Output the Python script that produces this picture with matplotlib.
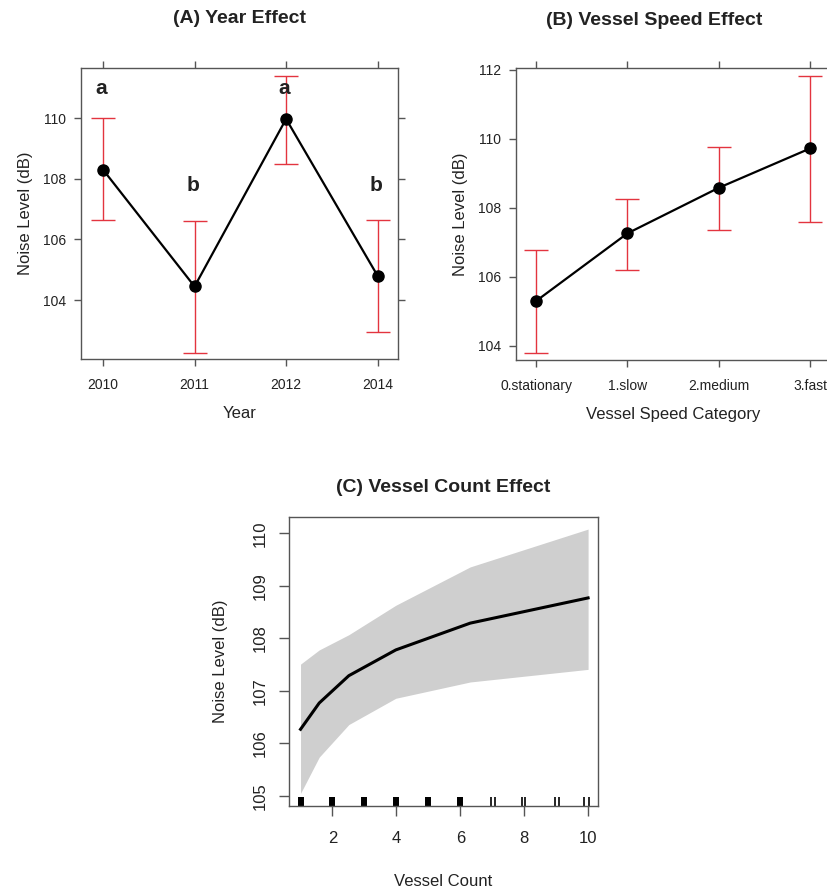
#!/usr/bin/env python3

import numpy as np
import matplotlib
matplotlib.use("Agg")
import matplotlib.pyplot as plt

plt.rcParams["font.family"] = ["Liberation Sans", "DejaVu Sans"]

# (A) year effect
years = ["2010", "2011", "2012", "2014"]
year_fit = [108.30, 104.45, 109.97, 104.80]
year_lower = [106.63, 102.27, 108.50, 102.94]
year_upper = [110.00, 106.60, 111.40, 106.63]
year_letters = ["a", "b", "a", "b"]
letter_y = [110.99, 107.79, 110.99, 107.79]

# (B) vessel speed effect
speeds = ["0.stationary", "1.slow", "2.medium", "3.fast"]
speed_fit = [105.30, 107.26, 108.58, 109.72]
speed_lower = [103.80, 106.19, 107.35, 107.59]
speed_upper = [106.77, 108.25, 109.77, 111.82]

# (C) vessel count effect
count_x = [1.0, 1.585, 2.512, 3.981, 6.310, 10.0]
count_fit = [106.27, 106.77, 107.29, 107.78, 108.29, 108.77]
count_lower = [105.05, 105.74, 106.36, 106.86, 107.17, 107.41]
count_upper = [107.51, 107.78, 108.07, 108.63, 109.36, 110.08]
rug_dense = [1, 2, 3, 4, 5, 6]
rug_pairs = [6.96, 7.09, 7.92, 8.04, 8.96, 9.09, 9.88, 10.03]

RED = "#e3343f"
SPINE = "#555555"
TXT = "#222222"


def lattice_axes(ax, labels, ylim, yticks, xlim):
    ax.set_xlim(*xlim)
    ax.set_ylim(*ylim)
    ax.set_xticks(range(len(labels)))
    ax.set_xticklabels(labels)
    ax.set_yticks(yticks)
    ax.tick_params(axis="both", direction="out", length=5, width=1,
                   color=SPINE, labelsize=10, labelcolor=TXT, pad=6,
                   top=True, right=True, labeltop=False, labelright=False)
    ax.tick_params(axis="x", pad=9)
    for s in ax.spines.values():
        s.set_color(SPINE)
        s.set_linewidth(1)


def effect_panel(ax, fit, lower, upper):
    x = np.arange(len(fit))
    fit = np.array(fit)
    err = [fit - np.array(lower), np.array(upper) - fit]
    ax.errorbar(x, fit, yerr=err, fmt="none", ecolor=RED, elinewidth=1,
                capsize=8.6, capthick=1, zorder=2)
    ax.plot(x, fit, color="black", lw=1.6, marker="o", ms=8, zorder=3)


def main():
    fig = plt.figure(figsize=(8.27, 8.90), dpi=100)

    # panel A
    ax = fig.add_axes([0.098, 0.5966, 0.383, 0.327])
    effect_panel(ax, year_fit, year_lower, year_upper)
    for i, (lab, ly) in enumerate(zip(year_letters, letter_y)):
        ax.text(i - 0.02, ly, lab, ha="center", va="center", fontsize=15,
                fontweight="bold", color=TXT)
    lattice_axes(ax, years, (102.06, 111.65), [104, 106, 108, 110], (-0.24, 3.22))
    ax.set_xlabel("Year", fontsize=12, color=TXT, labelpad=10)
    ax.set_ylabel("Noise Level (dB)", fontsize=12, color=TXT, labelpad=7)
    fig.text(0.29, 0.979, "(A) Year Effect", ha="center", va="center",
             fontsize=14, fontweight="bold", color=TXT)

    # panel B, clipped at the right edge like the original
    ax = fig.add_axes([0.624, 0.5955, 0.3797, 0.328])
    effect_panel(ax, speed_fit, speed_lower, speed_upper)
    lattice_axes(ax, speeds, (103.59, 112.05), [104, 106, 108, 110, 112], (-0.22, 3.22))
    ax.set_xlabel("Vessel Speed Category", fontsize=12, color=TXT, labelpad=10)
    ax.set_ylabel("Noise Level (dB)", fontsize=12, color=TXT, labelpad=7)
    fig.text(0.791, 0.977, "(B) Vessel Speed Effect", ha="center", va="center",
             fontsize=14, fontweight="bold", color=TXT)

    # panel C
    ax = fig.add_axes([0.3495, 0.0944, 0.3736, 0.3247])
    ax.fill_between(count_x, count_lower, count_upper, color="#cfcfcf", lw=0)
    ax.plot(count_x, count_fit, color="black", lw=2.2)
    ax.vlines(rug_dense, 0, 0.03, transform=ax.get_xaxis_transform(),
              color="black", lw=4.3)
    ax.vlines(rug_pairs, 0, 0.03, transform=ax.get_xaxis_transform(),
              color="black", lw=1.2)
    ax.set_xlim(0.64, 10.31)
    ax.set_ylim(104.81, 110.31)
    ax.set_xticks([2, 4, 6, 8, 10])
    ax.set_yticks([105, 106, 107, 108, 109, 110])
    ax.tick_params(axis="both", direction="out", length=7, width=1,
                   color=SPINE, labelsize=12, labelcolor=TXT, pad=8)
    ax.tick_params(axis="x", pad=11)
    for lab in ax.get_yticklabels():
        lab.set_rotation(90)
        lab.set_va("center")
    for s in ax.spines.values():
        s.set_color(SPINE)
        s.set_linewidth(1)
    ax.set_xlabel("Vessel Count", fontsize=12, color=TXT, labelpad=20)
    ax.set_ylabel("Noise Level (dB)", fontsize=12, color=TXT, labelpad=18)
    ax.set_title("(C) Vessel Count Effect", fontsize=14, fontweight="bold",
                 color=TXT, pad=18)

    fig.savefig("out.png", dpi=100)


if __name__ == "__main__":
    main()
